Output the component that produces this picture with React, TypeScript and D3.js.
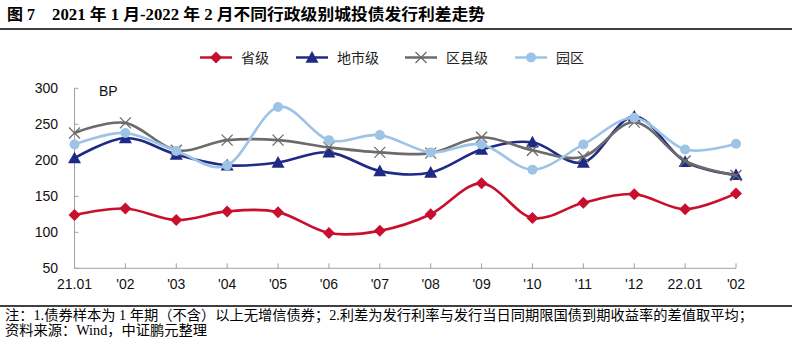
import React from "react";
import * as d3 from "d3";

const categories = ["21.01", "'02", "'03", "'04", "'05", "'06", "'07", "'08", "'09", "'10", "'11", "'12", "22.01", "'02"];
const provincial = [124, 133, 117, 129, 128, 99, 102, 125, 168, 120, 141, 153, 132, 154];
const municipal = [203, 231, 208, 193, 197, 211, 185, 183, 215, 225, 197, 261, 198, 180];
const county = [238, 252, 214, 228, 228, 218, 211, 210, 232, 214, 205, 253, 199, 179];
const park = [222, 238, 213, 193, 274, 228, 235, 211, 222, 187, 222, 259, 215, 223];
const yTicks = [50, 100, 150, 200, 250, 300];
const seriesNames = ["省级", "地市级", "区县级", "园区"];

const colors = ["#C8102E", "#1F2A87", "#6B6B6B", "#9DC3E6"];
const markers = ["diamond", "triangle", "cross", "circle"];

function Marker({ type, x, y, color }: { type: string; x: number; y: number; color: string }) {
  if (type === "diamond") {
    const s = 6;
    return <path d={`M${x},${y - s}L${x + s},${y}L${x},${y + s}L${x - s},${y}Z`} fill={color} />;
  }
  if (type === "triangle") {
    const s = 6.5;
    return <path d={`M${x},${y - s}L${x + s},${y + s * 0.8}L${x - s},${y + s * 0.8}Z`} fill={color} />;
  }
  if (type === "cross") {
    const s = 5.5;
    return (
      <g stroke={color} strokeWidth={1.3}>
        <line x1={x - s} y1={y - s} x2={x + s} y2={y + s} />
        <line x1={x - s} y1={y + s} x2={x + s} y2={y - s} />
      </g>
    );
  }
  return <circle cx={x} cy={y} r={5} fill={color} />;
}

export default function App() {
  const W = 792, H = 349;
  const x = d3.scaleLinear().domain([0, categories.length - 1]).range([74.5, 736]);
  const y = d3.scaleLinear().domain([50, 300]).range([268.3, 88.3]);
  const line = d3.line<number>().x((_, i) => x(i)).y((d) => y(d)).curve(d3.curveCardinal.tension(0));
  const data = [provincial, municipal, county, park];
  const legendX = [200, 296, 405, 515];
  const cjk = "'Noto Sans CJK SC', 'Liberation Sans', sans-serif";
  const serif = "'Liberation Serif', 'Noto Sans CJK SC', serif";
  const axisColor = "#A0A0A0";
  return (
    <svg width={W} height={H} style={{ position: "absolute", left: 0, top: 0 }}>
      <rect width={W} height={H} fill="#fff" />
      <text x={7} y={19.5} fontFamily={serif} fontWeight="bold" fontSize={16}>图 7</text>
      <text x={52} y={19.5} fontFamily={serif} fontWeight="bold" fontSize={16} textLength={433} lengthAdjust="spacingAndGlyphs">2021 年 1 月-2022 年 2 月不同行政级别城投债发行利差走势</text>
      <line x1={0} x2={W} y1={29} y2={29} stroke="#000" strokeWidth={1.3} />

      {seriesNames.map((n, i) => (
        <g key={n}>
          <line x1={legendX[i]} x2={legendX[i] + 32} y1={57.5} y2={57.5} stroke={colors[i]} strokeWidth={2.5} />
          <Marker type={markers[i]} x={legendX[i] + 16} y={57.5} color={colors[i]} />
          <text x={legendX[i] + 41} y={62.5} fontFamily={cjk} fontSize={14} fill="#222">{n}</text>
        </g>
      ))}

      <line x1={74.5} x2={74.5} y1={y(300)} y2={y(50)} stroke={axisColor} strokeWidth={1} />
      <line x1={74.5} x2={736} y1={y(50)} y2={y(50)} stroke={axisColor} strokeWidth={1} />
      {yTicks.map((t) => (
        <g key={t}>
          <line x1={74.5} x2={78.5} y1={y(t)} y2={y(t)} stroke={axisColor} />
          <text x={58} y={y(t) + 5} textAnchor="end" fontFamily="'Liberation Sans', Arial, sans-serif" fontSize={14} fill="#111">{t}</text>
        </g>
      ))}
      {categories.map((c, i) => (
        <g key={i}>
          <line x1={x(i)} x2={x(i)} y1={y(50)} y2={y(50) - 5} stroke={axisColor} />
          <text x={x(i)} y={289} textAnchor="middle" fontFamily="'Liberation Sans', Arial, sans-serif" fontSize={14} fill="#111">{c}</text>
        </g>
      ))}
      <text x={99} y={96} fontFamily="'Liberation Sans', Arial, sans-serif" fontSize={14} fill="#111">BP</text>

      {data.map((s, si) => (
        <g key={si}>
          <path d={line(s) || ""} fill="none" stroke={colors[si]} strokeWidth={2.6} />
          {s.map((v, i) => (
            <Marker key={i} type={markers[si]} x={x(i)} y={y(v)} color={colors[si]} />
          ))}
        </g>
      ))}

      <line x1={0} x2={W} y1={306} y2={306} stroke="#000" strokeWidth={1.3} />
      <text x={5} y={320} fontFamily={serif} fontSize={14} textLength={748} lengthAdjust="spacingAndGlyphs">注：1.债券样本为 1 年期（不含）以上无增信债券；2.利差为发行利率与发行当日同期限国债到期收益率的差值取平均；</text>
      <text x={5} y={335} fontFamily={serif} fontSize={14} textLength={202} lengthAdjust="spacingAndGlyphs">资料来源：Wind，中证鹏元整理</text>
    </svg>
  );
}
